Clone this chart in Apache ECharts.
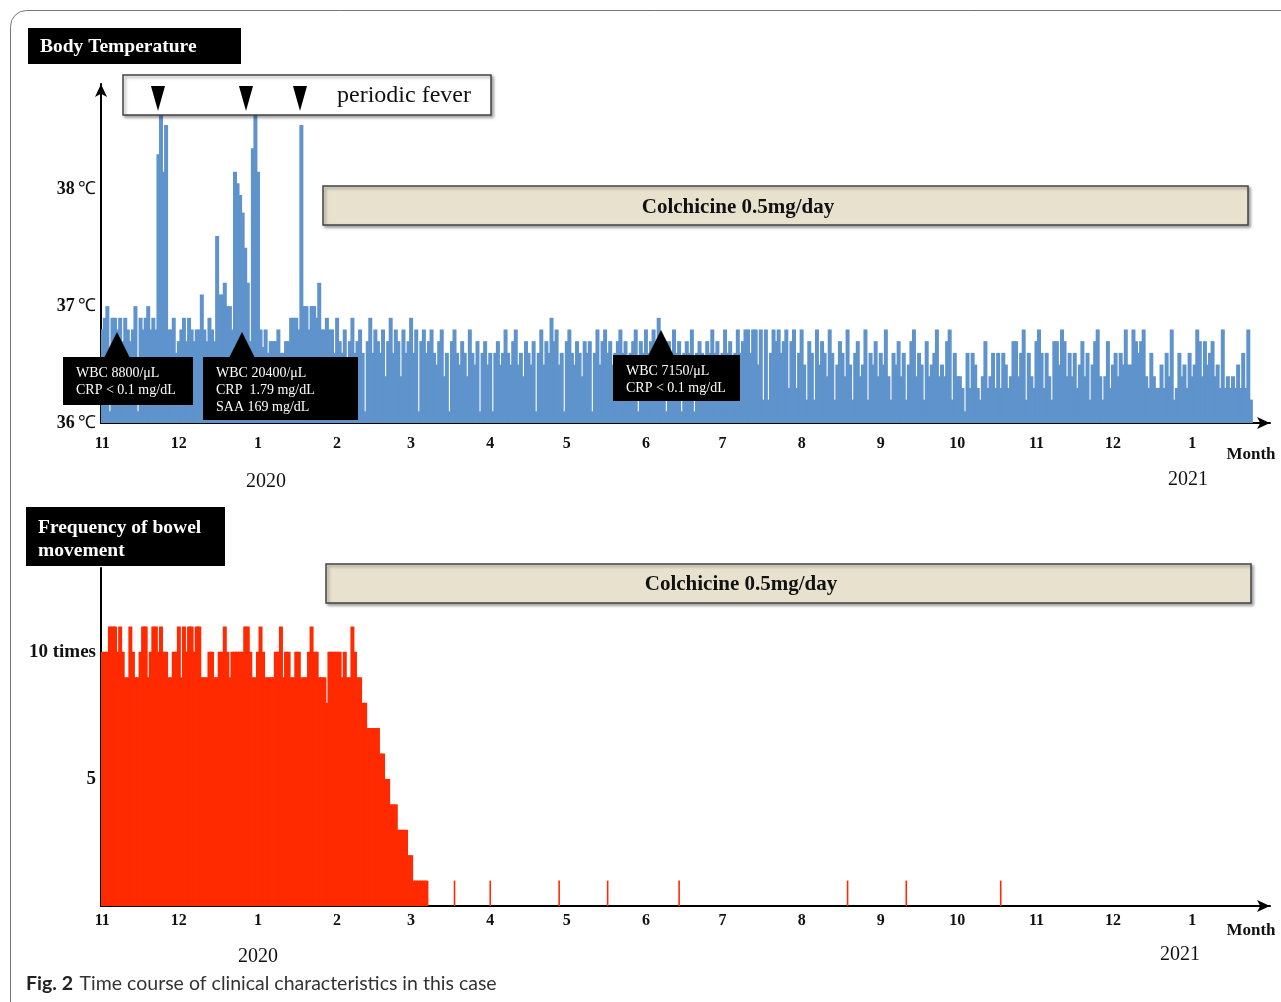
<!DOCTYPE html>
<html>
<head>
<meta charset="utf-8">
<title>Time course of clinical characteristics</title>
<script src="https://cdn.jsdelivr.net/npm/echarts@6/dist/echarts.min.js"></script>
<style>
  html, body { margin: 0; padding: 0; background: #fff; }
  #chart { width: 1281px; height: 1002px; }
</style>
</head>
<body>
<div id="chart"></div>
<script>
// month ticks, Nov 2019 .. Jan 2021
const monthLabels = ['11', '12', '1', '2', '3', '4', '5', '6', '7', '8', '9', '10', '11', '12', '1']
const monthDays = [30, 31, 31, 29, 31, 30, 31, 30, 31, 31, 30, 31, 30, 31, 31]
const tempTicks = [36, 37, 38]
const bowelTicks = [5, 10]

// daily body temperature (℃), day 0 = Nov 1 2019
const tempDaily = [
  36.8, 36.9, 37.0, 36.1, 36.9, 36.9, 36.8, 36.9, 36.7, 36.9,
  36.8, 36.7, 36.8, 37.0, 36.1, 36.9, 36.8, 36.9, 37.0, 36.8,
  36.9, 36.8, 38.3, 38.65, 38.15, 38.55, 36.8, 36.8, 36.9, 36.6,
  36.7, 36.8, 36.9, 36.7, 36.9, 36.8, 36.7, 36.8, 36.8, 37.1,
  36.8, 36.7, 36.9, 36.8, 36.7, 37.6, 37.1, 37.1, 37.2, 37.0,
  37.0, 36.8, 38.15, 38.05, 37.95, 37.8, 37.5, 37.2, 36.7, 38.35,
  38.65, 38.15, 36.8, 36.65, 36.8, 36.6, 36.7, 36.7, 36.7, 36.8,
  36.6, 36.6, 36.7, 36.7, 36.9, 36.9, 36.9, 36.8, 38.55, 37.0,
  37.0, 36.8, 37.0, 37.0, 36.9, 37.2, 36.8, 36.8, 36.9, 36.8,
  36.8, 36.6, 36.9, 36.7, 36.6, 36.8, 36.4, 36.7, 36.9, 36.6,
  36.7, 36.8, 36.6, 36.1, 36.7, 36.9, 36.6, 36.8, 36.7, 36.6,
  36.8, 36.4, 36.7, 36.9, 36.6, 36.8, 36.7, 36.4, 36.8, 36.6,
  36.7, 36.9, 36.6, 36.8, 36.1, 36.7, 36.8, 36.6, 36.7, 36.8,
  36.6, 36.5, 36.7, 36.8, 36.4, 36.6, 36.1, 36.7, 36.8, 36.6,
  36.5, 36.7, 36.6, 36.4, 36.8, 36.6, 36.5, 36.7, 36.1, 36.6,
  36.7, 36.5, 36.6, 36.1, 36.6, 36.7, 36.5, 36.6, 36.8, 36.6,
  36.5, 36.7, 36.8, 36.5, 36.6, 36.4, 36.7, 36.6, 36.5, 36.7,
  36.1, 36.6, 36.8, 36.5, 36.7, 36.6, 36.9, 36.7, 36.8, 36.5,
  36.6, 36.1, 36.7, 36.8, 36.6, 36.5, 36.7, 36.6, 36.4, 36.7,
  36.6, 36.7, 36.1, 36.6, 36.8, 36.5, 36.7, 36.8, 36.6, 36.7,
  36.5, 36.6, 36.7, 36.8, 36.6, 36.7, 36.4, 36.6, 36.7, 36.8,
  36.1, 36.7, 36.6, 36.8, 36.6, 36.7, 36.8, 36.6, 36.9, 36.7,
  36.6, 36.1, 36.7, 36.6, 36.8, 36.6, 36.7, 36.1, 36.6, 36.7,
  36.6, 36.8, 36.1, 36.6, 36.7, 36.6, 36.5, 36.7, 36.6, 36.8,
  36.6, 36.7, 36.5, 36.6, 36.8, 36.6, 36.7, 36.4, 36.6, 36.8,
  36.6, 36.7, 36.8, 36.8, 36.6, 36.8, 36.8, 36.5, 36.8, 36.2,
  36.8, 36.2, 36.6, 36.8, 36.7, 36.8, 36.6, 36.7, 36.8, 36.3,
  36.7, 36.8, 36.3, 36.6, 36.8, 36.5, 36.2, 36.7, 36.6, 36.2,
  36.8, 36.5, 36.7, 36.6, 36.4, 36.8, 36.6, 36.2, 36.5, 36.7,
  36.6, 36.4, 36.8, 36.5, 36.2, 36.6, 36.7, 36.4, 36.5, 36.8,
  36.2, 36.6, 36.5, 36.7, 36.4, 36.6, 36.5, 36.8, 36.4, 36.2,
  36.6, 36.5, 36.7, 36.4, 36.6, 36.2, 36.5, 36.7, 36.8, 36.4,
  36.6, 36.5, 36.2, 36.7, 36.4, 36.5, 36.6, 36.8, 36.4, 36.5,
  36.4, 36.7, 36.8, 36.2, 36.6, 36.4, 36.4, 36.3, 36.1, 36.6,
  36.3, 36.6, 36.5, 36.3, 36.2, 36.4, 36.7, 36.3, 36.4, 36.6,
  36.3, 36.6, 36.3, 36.6, 36.5, 36.3, 36.4, 36.7, 36.7, 36.4,
  36.6, 36.8, 36.2, 36.6, 36.4, 36.3, 36.7, 36.8, 36.6, 36.3,
  36.6, 36.4, 36.2, 36.7, 36.7, 36.5, 36.8, 36.7, 36.4, 36.6,
  36.4, 36.6, 36.3, 36.5, 36.7, 36.4, 36.6, 36.2, 36.5, 36.7,
  36.8, 36.4, 36.2, 36.4, 36.7, 36.3, 36.5, 36.6, 36.4, 36.6,
  36.5, 36.8, 36.5, 36.5, 36.8, 36.7, 36.6, 36.7, 36.8, 36.4,
  36.3, 36.6, 36.4, 36.3, 36.3, 36.5, 36.3, 36.6, 36.4, 36.8,
  36.2, 36.3, 36.6, 36.4, 36.5, 36.3, 36.6, 36.4, 36.5, 36.8,
  36.7, 36.4, 36.7, 36.5, 36.6, 36.7, 36.4, 36.5, 36.3, 36.8,
  36.3, 36.4, 36.3, 36.4, 36.3, 36.5, 36.3, 36.6, 36.3, 36.8,
  36.2
]

// daily bowel movements (times), Nov 1 2019 .. early March 2020
const bowelDaily = [
  10, 10, 10, 11, 11, 11, 10, 11, 10, 9,
  9, 11, 10, 9, 9, 10, 11, 11, 9, 10,
  11, 11, 10, 11, 10, 10, 9, 9, 10, 10,
  11, 9, 11, 10, 11, 11, 10, 11, 11, 9,
  9, 9, 10, 10, 9, 9, 10, 10, 11, 10,
  9, 10, 10, 10, 10, 10, 11, 11, 10, 9,
  9, 10, 11, 10, 9, 9, 9, 9, 10, 10,
  11, 9, 10, 10, 9, 9, 10, 10, 9, 9,
  9, 10, 11, 10, 10, 9, 9, 9, 8, 10,
  10, 10, 10, 10, 9, 10, 9, 9, 11, 10,
  9, 9, 8, 8, 7, 7, 7, 7, 7, 6,
  6, 5, 5, 4, 4, 4, 3, 3, 3, 3,
  2, 2, 1, 1, 1, 1, 1, 1
]
// later single days with one movement
const bowelLateDays = [138, 152, 179, 198, 226, 292, 315, 352]
const bowelLateValue = 1

const days = []
const monthStartLabel = {}
monthDays.forEach((n, m) => {
  monthStartLabel[days.length] = monthLabels[m]
  for (let d = 1; d <= n; d++) days.push(monthLabels[m] + '/' + d)
})

const bowelData = days.map((_, i) => (i < bowelDaily.length ? bowelDaily[i] : '-'))
const bowelLateData = days.map((_, i) => (bowelLateDays.indexOf(i) >= 0 ? bowelLateValue : '-'))
const tempData = tempDaily.slice()

const serif = '"Liberation Serif", "Times New Roman", serif'
const ink = '#111'
const blue = '#5f93cc'
const red = '#ff2a00'

function xAxisOpt(gridIndex, margin) {
  return {
    type: 'category',
    gridIndex: gridIndex,
    data: days,
    axisLine: {
      lineStyle: { color: '#000', width: 2 },
      symbol: ['none', 'arrow'],
      symbolSize: [9, 13]
    },
    axisTick: { show: false },
    axisLabel: {
      interval: (i) => monthStartLabel[i] !== undefined,
      formatter: (v, i) => monthStartLabel[i] || '',
      fontFamily: serif,
      fontWeight: 'bold',
      fontSize: 16,
      color: ink,
      margin: margin
    },
    splitLine: { show: false }
  }
}

function box(x, y, w, h, fill, shadow) {
  return {
    type: 'rect',
    z: 100,
    shape: { x: x, y: y, width: w, height: h },
    style: shadow ? {
      fill: fill, stroke: '#444', lineWidth: 1.5,
      shadowBlur: 3, shadowOffsetX: 2, shadowOffsetY: 2, shadowColor: 'rgba(0,0,0,0.35)'
    } : { fill: fill }
  }
}

function label(x, y, text, font, color, align) {
  return {
    type: 'text',
    z: 101,
    x: x,
    y: y,
    style: {
      text: text,
      font: font,
      fill: color || ink,
      align: align || 'left',
      verticalAlign: 'middle'
    }
  }
}

function tri(points, fill) {
  return { type: 'polygon', z: 101, shape: { points: points }, style: { fill: fill || '#000' } }
}

function note(x, y, w, h, apexX, lines) {
  const els = [
    box(x, y, w, h, '#000'),
    tri([[apexX - 13, y + 1], [apexX + 13, y + 1], [apexX, y - 25]])
  ]
  lines.forEach((t, k) => {
    els.push(label(x + 13, y + 16 + k * 17, t, '14px ' + serif, '#fff'))
  })
  return els
}

const chart = echarts.init(document.getElementById('chart'))

chart.setOption({
  animation: false,
  backgroundColor: '#fff',
  grid: [
    { left: 101, right: 11, top: 84, bottom: 579 },
    { left: 101, right: 11, top: 568, bottom: 96 }
  ],
  xAxis: [
    xAxisOpt(0, 13),
    xAxisOpt(1, 7),
    // hidden twin of the lower axis, for the thin single-day marks
    { type: 'category', gridIndex: 1, data: days, show: false }
  ],
  yAxis: [
    {
      type: 'value',
      gridIndex: 0,
      min: 36,
      max: 38.9,
      interval: 1,
      axisLine: {
        show: true,
        lineStyle: { color: '#000', width: 2 },
        symbol: ['none', 'arrow'],
        symbolSize: [9, 13]
      },
      axisTick: { show: false },
      splitLine: { show: false },
      axisLabel: {
        margin: 5,
        formatter: (v) => {
          const t = tempTicks.find(k => Math.abs(k - v) < 1e-6)
          return t === undefined ? '' : '{n|' + t + '} {u|℃}'
        },
        rich: {
          n: { fontFamily: serif, fontWeight: 'bold', fontSize: 18, color: ink },
          u: { fontFamily: serif, fontSize: 18, color: ink }
        }
      }
    },
    {
      type: 'value',
      gridIndex: 1,
      min: 0,
      max: 13.3,
      interval: 5,
      axisLine: { show: true, lineStyle: { color: '#000', width: 2 } },
      axisTick: { show: false },
      splitLine: { show: false },
      axisLabel: {
        margin: 5,
        formatter: (v) => {
          const t = bowelTicks.find(k => Math.abs(k - v) < 1e-6)
          if (t === undefined) return ''
          return t === 10 ? '10 times' : String(t)
        },
        fontFamily: serif,
        fontWeight: 'bold',
        fontSize: 19,
        color: ink
      }
    }
  ],
  series: [
    {
      name: 'Body Temperature',
      type: 'bar',
      xAxisIndex: 0,
      yAxisIndex: 0,
      data: tempData,
      barWidth: 4,
      large: false,
      itemStyle: { color: blue },
      silent: true
    },
    {
      name: 'Frequency of bowel movement',
      type: 'bar',
      xAxisIndex: 1,
      yAxisIndex: 1,
      data: bowelData,
      barWidth: 4,
      large: false,
      itemStyle: { color: red },
      silent: true
    },
    {
      name: 'Frequency of bowel movement (later)',
      type: 'bar',
      xAxisIndex: 2,
      yAxisIndex: 1,
      data: bowelLateData,
      barWidth: 1.6,
      itemStyle: { color: red },
      silent: true
    }
  ],
  graphic: [
    {
      type: 'rect',
      z: 1,
      shape: { x: 10.5, y: 10.5, width: 1320, height: 1040, r: 16 },
      style: { fill: 'none', stroke: '#777', lineWidth: 1 }
    },
    // panel titles
    box(28, 28, 213, 36, '#000'),
    label(40, 47, 'Body Temperature', 'bold 19.5px ' + serif, '#fff'),
    box(26, 507, 199, 59, '#000'),
    label(38, 528, 'Frequency of bowel', 'bold 19.5px ' + serif, '#fff'),
    label(38, 551, 'movement', 'bold 19.5px ' + serif, '#fff'),
    // periodic fever
    box(123, 75, 368, 40, '#fff', true),
    tri([[151, 86], [165, 86], [158, 111]]),
    tri([[239, 86], [253, 86], [246, 111]]),
    tri([[293, 86], [307, 86], [300, 111]]),
    label(337, 96, 'periodic fever', '24px ' + serif, '#111'),
    // colchicine bars
    box(323, 186, 925, 39, '#e7e1cd', true),
    label(738, 208, 'Colchicine 0.5mg/day', 'bold 21px ' + serif, '#111', 'center'),
    box(326, 564, 925, 39, '#e7e1cd', true),
    label(741, 585, 'Colchicine 0.5mg/day', 'bold 21px ' + serif, '#111', 'center'),
    // lab notes
    ...note(63, 357, 130, 48, 117, ['WBC 8800/μL', 'CRP < 0.1 mg/dL']),
    ...note(203, 357, 155, 63, 242, ['WBC 20400/μL', 'CRP  1.79 mg/dL', 'SAA 169 mg/dL']),
    ...note(613, 355, 127, 46, 661, ['WBC 7150/μL', 'CRP < 0.1 mg/dL']),
    // year / unit labels
    label(266, 482, '2020', '20px ' + serif, ink, 'center'),
    label(1188, 480, '2021', '20px ' + serif, ink, 'center'),
    label(1251, 455, 'Month', 'bold 17px ' + serif, ink, 'center'),
    label(258, 957, '2020', '20px ' + serif, ink, 'center'),
    label(1180, 955, '2021', '20px ' + serif, ink, 'center'),
    label(1251, 931, 'Month', 'bold 17px ' + serif, ink, 'center'),
    // caption
    {
      type: 'text',
      z: 101,
      x: 26,
      y: 984,
      style: {
        text: '{b|Fig. 2}  {r|Time course of clinical characteristics in this case}',
        verticalAlign: 'middle',
        rich: {
          b: { font: 'bold 19.5px Lato, "Noto Sans", sans-serif', fill: '#222' },
          r: { font: '19.5px Lato, "Noto Sans", sans-serif', fill: '#333' }
        }
      }
    }
  ]
})
</script>
</body>
</html>
